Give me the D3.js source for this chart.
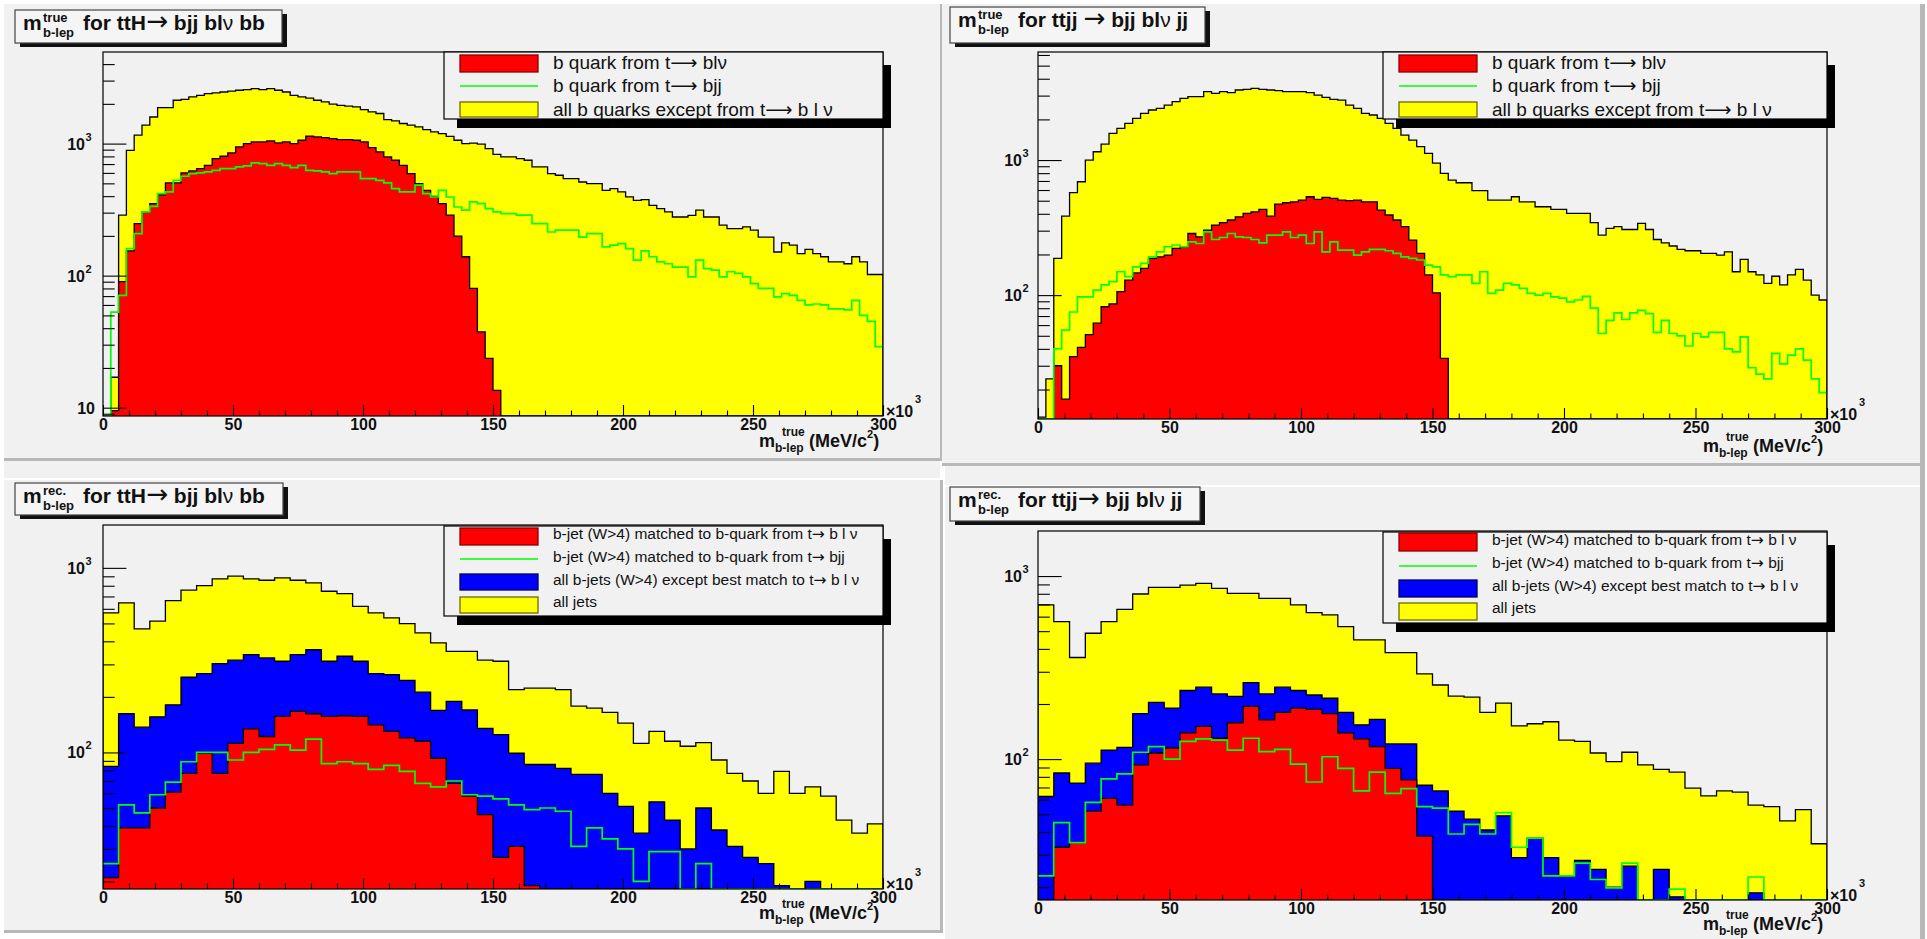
<!DOCTYPE html>
<html><head><meta charset="utf-8">
<script src="https://cdn.jsdelivr.net/npm/d3@7/dist/d3.min.js"></script>
<style>
html,body{margin:0;padding:0;background:#fff;}
svg{display:block;}
text{font-family:"Liberation Sans",Arial,Helvetica,sans-serif;}
</style></head><body>
<svg id="c" width="1927" height="939"></svg>
<script>
// ---------------- DATA ----------------
// x axis: m_b-lep (x10^3 MeV/c^2), 0..300
const xTickValues = [0, 50, 100, 150, 200, 250, 300];

// Panel 1: ttH, true (100 bins)
const tthTrueAll = [0,17,287,890,1160,1380,1590,1875,1875,2130,
 2165,2260,2320,2390,2420,2460,2500,2535,2565,2610,
 2565,2610,2535,2460,2320,2260,2210,2130,2070,1990,
 1950,1920,1900,1810,1740,1690,1520,1485,1420,1380,
 1340,1275,1225,1190,1135,1060,1000,1010,990,917,
 830,792,792,770,748,666,666,593,576,543,
 543,512,498,498,443,456,431,395,372,377,
 341,322,304,278,278,286,313,278,278,241,
 227,227,234,221,196,196,151,177,170,147,
 158,147,139,127,127,123,139,127,102,102];
const tthTrueLep = [0,9.5,90,154,248,304,351,410,504,504,
 600,621,647,685,770,802,850,943,1000,1030,
 1030,1047,1012,1030,1000,1060,1137,1123,1110,1091,
 1072,1072,1060,1030,933,865,792,748,685,593,
 498,443,399,351,287,199,139,80,37.5,23.6,
 13.5,0,0,0,0,0,0,0,0,0,
 0,0,0,0,0,0,0,0,0,0, 0,0,0,0,0,0,0,0,0,0,
 0,0,0,0,0,0,0,0,0,0, 0,0,0,0,0,0,0,0,0,0];
const tthTrueHad = [0,53,71,160,208,304,335,418,431,527,
 566,593,600,610,628,647,647,666,677,714,
 705,685,705,685,658,685,628,621,610,593,
 610,610,610,543,543,527,504,456,431,431,
 484,418,394,443,394,331,313,362,351,322,
 304,295,295,287,287,248,248,214,221,221,
 221,196,208,208,165,170,175,160,131,154,
 139,127,123,116,116,98,131,113,110,98,
 107,104,98,87,80,80,69,73,71,65,
 60,61,60,56,56,55,65,50,45,29];

// Panel 2: ttjj, true (100 bins)
const ttjjTrueAll = [12.5,24,187,385,573,691,1000,1152,1314,1577,
 1718,1871,2037,2219,2347,2414,2555,2704,2862,2946,
 2946,3206,3117,3206,3153,3300,3340,3397,3340,3300,
 3265,3206,3206,3206,3153,3026,2913,2813,2780,2555,
 2414,2219,2155,2037,1871,1718,1531,1406,1256,1120,
 950,797,711,679,679,593,593,505,505,505,
 535,491,491,451,451,431,431,403,403,403,
 344,278,312,321,306,306,340,306,258,244,
 231,218,213,213,204,204,198,209,149,184,
 149,141,122,138,119,141,155,129,100,92];
const ttjjTrueLep = [0,0,30,17,35,41,51,62,82,86,
 106,129,146,158,187,192,198,222,228,286,
 270,303,330,344,360,380,403,414,431,385,
 472,483,491,505,535,511,529,520,505,500,
 505,491,491,426,392,360,321,255,204,141,
 104,34,0,0,0,0,0,0,0,0,
 0,0,0,0,0,0,0,0,0,0, 0,0,0,0,0,0,0,0,0,0,
 0,0,0,0,0,0,0,0,0,0, 0,0,0,0,0,0,0,0,0,0];
const ttjjTrueHad = [0,0,40,55,75,97,97,109,119,126,
 149,137,162,172,192,209,228,235,228,248,
 241,294,258,267,286,270,267,258,244,278,
 278,294,267,278,241,294,209,248,215,215,
 198,209,218,218,213,204,192,187,182,167,
 162,141,137,141,141,122,149,103,109,122,
 119,112,103,100,103,97,95,89,92,98,
 80,52,65,74,66,74,77,73,53,65,
 52,50,42,52,49,53,53,40,38,49,
 29,26,24,37,31,36,40,33,24,19];

// Panel 3: ttH, reconstructed (50 bins)
const tthRecAll = [570,646,467,514,665,757,802,872,901,872,
 857,883,857,829,747,726,619,570,536,499,
 444,392,353,353,316,312,219,223,223,219,
 178,174,165,144,112,130,115,108,113,91,
 77,70,60,79,60,65,58,43,36.5,41];
const tthRecBjets = [84,162,137,156,181,256,267,303,316,339,
 325,312,339,360,312,332,312,267,264,246,
 212,169,189,170,135,125,99,86,86,82,
 76,76,60,51,36.5,54,43,30,50,38,
 31,27,25,19,0,20,0,0,0,0];
const tthRecLep = [21,39,39,50,61,77,99,77,112,134,
 122,157,167,162,157,158,157,141,130,120,
 115,93,68,58,46,27,31,19,0,0,
 0,0,0,0,0,0,0,0,0,0, 0,0,0,0,0,0,0,0,0,0];
const tthRecHad = [25,52,47,59,69,89,100,100,91,100,
 104,110,103,118,87,89,87,81,85,79,
 68,65,70,59,58,56,52,49,50,48,
 31,39,34,30,20,29,29,0,25,0,
 0,0,0,0,0,0,0,0,0,0];

// Panel 4: ttjj, reconstructed (50 bins)
const ttjjRecAll = [695,564,359,487,564,658,798,867,867,893,
 912,857,804,804,755,755,695,631,613,529,
 448,448,382,382,292,254,221,218,180,202,
 152,156,160,127,125,108,97,109,93,88,
 85,69.5,63,67,66,56,55,46,53,34.5];
const ttjjRecBjets = [62.5,84,74,95,112,116,177,204,190,237,
 247,227,220,262,227,247,237,224,215,180,
 154,165,121,121,72,67,52,47,41,49,
 29,37,29,23,28,25,20,26,0,25,
 17.7,0,0,0,0,18.6,0,0,0,0];
const ttjjRecLep = [0,33,35,52,61,56,93,108,115,139,
 151,130,158,194,164,180,190,187,177,139,
 129,117,89,77,38,0,0,0,0,0,
 0,0,0,0,0,0,0,0,0,0, 0,0,0,0,0,0,0,0,0,0];
const ttjjRecHad = [23,45,35,58,78,83,109,117,100,125,
 129,127,112,130,110,113,94,75,103,89,
 67,85,65,69,55,54,39,44,39,51,
 33,37,23,23,27,22,19.8,27,0,0,
 19.5,0,0,0,0,22.7,0,0,0,0];

const legendTrue = ["b quark from t\u2192 bl\u03bd", "b quark from t\u2192 bjj", "all b quarks except from t\u2192 b l \u03bd"];
const legendRec = ["b-jet (W>4) matched to b-quark from t\u2192 b l \u03bd", "b-jet (W>4) matched to b-quark from t\u2192 bjj",
  "all b-jets (W>4) except best match to t\u2192 b l \u03bd", "all jets"];

// ---------------- DRAWING ----------------
const svg = d3.select('#c');
const BG = '#f1f1f1', SH = '#b8b8b8';
const COL = {yellow:'#ffff00', red:'#ff0000', blue:'#0000ff', green:'#00ff00'};

function R(x,y,w,h,fill){ return svg.append('rect').attr('x',x).attr('y',y).attr('width',w).attr('height',h).attr('fill',fill); }
// canvas backgrounds
R(0,0,1927,939,'#fff');
R(4,4,936,454,BG); R(940,4,2,457,SH); R(4,458,938,3,SH);
R(4,461,936,17,BG);
R(942,4,978,459,BG); R(1920,4,5,462,SH); R(942,463,983,3,SH);
R(4,480,936,450,BG); R(940,480,3,453,SH); R(4,930,939,3,SH);
R(945,466,975,473,BG); R(1920,466,5,473,SH); R(945,485,975,2,'#fff');

const panels = [
 {id:1, frame:[103,52,780,364], yDomain:[8.65,4940], labOff:-18,
  hists:[{v:tthTrueAll,c:'yellow'},{v:tthTrueLep,c:'red'},{v:tthTrueHad,c:'green',line:true}],
  title:{box:[15,10,267,33], sup:'true', rest:'for ttH\u2192 bjj bl\u03bd bb'},
  legend:{box:[444,52,439,67], labels:legendTrue, colors:['red','green','yellow'], size:19, longArrow:true,
          rows:[{sw:[3,20],tb:17},{ln:34,tb:40},{sw:[50,65],tb:64}]},
  xt:447},
 {id:2, frame:[1038,52,789,367], yDomain:[12.1,6310], labOff:-16,
  hists:[{v:ttjjTrueAll,c:'yellow'},{v:ttjjTrueLep,c:'red'},{v:ttjjTrueHad,c:'green',line:true}],
  title:{box:[950,7,255,36], sup:'true', rest:'for ttjj \u2192 bjj bl\u03bd jj'},
  legend:{box:[1383,52,444,67], labels:legendTrue, colors:['red','green','yellow'], size:19, longArrow:true,
          rows:[{sw:[3,20],tb:17},{ln:34,tb:40},{sw:[50,65],tb:64}]},
  xt:452},
 {id:3, frame:[103,525,780,364], yDomain:[18.2,1707], labOff:-18,
  hists:[{v:tthRecAll,c:'yellow'},{v:tthRecBjets,c:'blue'},{v:tthRecLep,c:'red'},{v:tthRecHad,c:'green',line:true}],
  title:{box:[15,483,268,32], sup:'rec.', rest:'for ttH\u2192 bjj bl\u03bd bb'},
  legend:{box:[444,526,439,90], labels:legendRec, colors:['red','green','blue','yellow'], size:15.5, longArrow:false,
          rows:[{sw:[2,19],tb:13},{ln:33,tb:36},{sw:[48,64],tb:59},{sw:[71,87],tb:81}]},
  xt:919},
 {id:4, frame:[1038,531,789,369], yDomain:[17.0,1762], labOff:-16,
  hists:[{v:ttjjRecAll,c:'yellow'},{v:ttjjRecBjets,c:'blue'},{v:ttjjRecLep,c:'red'},{v:ttjjRecHad,c:'green',line:true}],
  title:{box:[950,487,250,34], sup:'rec.', rest:'for ttjj\u2192 bjj bl\u03bd jj'},
  legend:{box:[1383,532,444,91], labels:legendRec, colors:['red','green','blue','yellow'], size:15.5, longArrow:false,
          rows:[{sw:[1,19],tb:13},{ln:34,tb:36},{sw:[48,65],tb:59},{sw:[71,88],tb:81}]},
  xt:930}
];

// render a string: arrow in DejaVu (longer glyph), greek nu in normal weight
function richText(t, s, size, arrowScale, longArrow){
  const re = /(\u2192|\u03bd)/;
  s.split(re).forEach(p=>{
    if(p==='') return;
    if(p==='\u2192'){
      t.append('tspan').attr('font-family','"DejaVu Sans", sans-serif').attr('font-weight','normal')
        .attr('font-size', size*arrowScale).text(longArrow ? '\u27f6' : p);
    } else if(p==='\u03bd'){
      t.append('tspan').attr('font-weight','normal').text(p);
    } else {
      t.append('tspan').text(p);
    }
  });
}

panels.forEach(p=>{
  const g = svg.append('g');
  const [fx,fy,fw,fh] = p.frame;
  const fb = fy+fh, fr = fx+fw;
  const x = d3.scaleLinear().domain([0,300]).range([fx,fr]);
  const y = d3.scaleLog().domain(p.yDomain).range([fb,fy]).clamp(true);
  const yv = v => y(Math.max(v, p.yDomain[0]));
  const cid = 'clip'+p.id;
  svg.append('clipPath').attr('id',cid).append('rect').attr('x',fx).attr('y',fy-1).attr('width',fw).attr('height',fh+1);
  const hg = g.append('g').attr('clip-path',`url(#${cid})`);
  p.hists.forEach(h=>{
    const nb = h.v.length, w = 300/nb;
    const pts = h.v.map((v,i)=>[i*w, v]); pts.push([300, h.v[nb-1]]);
    const line = d3.line().curve(d3.curveStepAfter).x(d=>x(d[0])).y(d=>yv(d[1]));
    if(!h.line){
      hg.append('path').attr('d', d3.area().curve(d3.curveStepAfter).x(d=>x(d[0])).y0(fb).y1(d=>yv(d[1]))(pts))
        .attr('fill', COL[h.c]);
      hg.append('path').attr('d', line([[0,0],...pts,[300,0]])).attr('fill','none').attr('stroke','#000').attr('stroke-width',1.3);
    } else {
      hg.append('path').attr('d', line(pts)).attr('fill','none').attr('stroke',COL.green).attr('stroke-width',1.7);
    }
  });
  // frame
  g.append('rect').attr('x',fx).attr('y',fy).attr('width',fw).attr('height',fh).attr('fill','none').attr('stroke','#000').attr('stroke-width',1.2);

  // x axis ticks
  const xMinor = d3.range(0,301,10).filter(v=>v%50!==0);
  const ax1 = g.append('g').attr('transform',`translate(0,${fb})`)
     .call(d3.axisBottom(x).tickValues(xMinor).tickSize(-fh*0.015).tickFormat(''));
  const ax2 = g.append('g').attr('transform',`translate(0,${fb})`)
     .call(d3.axisBottom(x).tickValues(xTickValues).tickSize(-fh*0.03).tickPadding(3).tickFormat(d3.format('d')));
  [ax1,ax2].forEach(a=>{ a.select('.domain').remove(); a.selectAll('line').attr('stroke','#000').attr('stroke-width',1.1); });
  ax2.attr('font-family',null).attr('font-size',16).attr('font-weight','bold');
  ax2.selectAll('text').attr('fill','#111');

  // y axis ticks (log)
  const [d0,d1] = p.yDomain;
  const majors=[], minors=[];
  for(let k=Math.floor(Math.log10(d0)); k<=Math.ceil(Math.log10(d1)); k++){
    for(let m=1;m<10;m++){ const v=m*Math.pow(10,k); if(v>=d0 && v<=d1) (m===1?majors:minors).push(v); }
  }
  const ay1 = g.append('g').attr('transform',`translate(${fx},0)`)
     .call(d3.axisLeft(y).tickValues(minors).tickSize(-fw*0.015).tickFormat(''));
  const ay2 = g.append('g').attr('transform',`translate(${fx},0)`)
     .call(d3.axisLeft(y).tickValues(majors).tickSize(-fw*0.03).tickFormat(''));
  [ay1,ay2].forEach(a=>{ a.select('.domain').remove(); a.selectAll('line').attr('stroke','#000').attr('stroke-width',1.1); });
  majors.forEach(v=>{
    const k = Math.round(Math.log10(v)), ty = y(v);
    if(k===1){
      g.append('text').attr('x',fx-8).attr('y',ty+6).attr('text-anchor','end').attr('font-size',16).attr('font-weight','bold').attr('fill','#111').text('10');
    } else {
      g.append('text').attr('x',fx+p.labOff).attr('y',ty+6).attr('text-anchor','end').attr('font-size',16).attr('font-weight','bold').attr('fill','#111').text('10');
      g.append('text').attr('x',fx+p.labOff+0.5).attr('y',ty-3).attr('font-size',11).attr('font-weight','bold').attr('fill','#111').text(String(k));
    }
  });
  // x10^3
  g.append('text').attr('x',fr+3).attr('y',fb+1).attr('font-size',16).attr('font-weight','bold').attr('fill','#111').text('\u00d710');
  g.append('text').attr('x',fr+32).attr('y',fb-13).attr('font-size',11).attr('font-weight','bold').attr('fill','#111').text('3');
  // x axis title
  const xb = p.xt;
  g.append('text').attr('x',fr-124).attr('y',xb).attr('font-size',18).attr('font-weight','bold').attr('fill','#111').text('m');
  g.append('text').attr('x',fr-101).attr('y',xb-11).attr('font-size',12).attr('font-weight','bold').attr('fill','#111').text('true');
  g.append('text').attr('x',fr-108).attr('y',xb+5).attr('font-size',12).attr('font-weight','bold').attr('fill','#111').text('b-lep');
  const tt = g.append('text').attr('x',fr-74).attr('y',xb).attr('font-size',18).attr('font-weight','bold').attr('fill','#111');
  tt.append('tspan').text('(MeV/c');
  tt.append('tspan').attr('font-size',11).attr('dy',-9).text('2');
  tt.append('tspan').attr('dy',9).text(')');

  // legend
  const L = p.legend; const [lx,ly,lw,lh] = L.box;
  g.append('rect').attr('x',lx+13).attr('y',ly+13).attr('width',lw-5).attr('height',lh-5).attr('fill','#000');
  g.append('rect').attr('x',lx+lw).attr('y',ly+13).attr('width',8).attr('height',lh-4).attr('fill','#000');
  g.append('rect').attr('x',lx+13).attr('y',ly+lh).attr('width',lw-5).attr('height',9).attr('fill','#000');
  g.append('rect').attr('x',lx).attr('y',ly).attr('width',lw).attr('height',lh).attr('fill',BG).attr('stroke','#000').attr('stroke-width',1.2);
  L.rows.forEach((r,i)=>{
    const c = L.colors[i];
    if(r.sw){
      const edge = c==='red'?'#8a0000':(c==='blue'?'#000055':'#6b6b00');
      g.append('rect').attr('x',lx+16).attr('y',ly+r.sw[0]).attr('width',78).attr('height',r.sw[1]-r.sw[0])
        .attr('fill',COL[c]).attr('stroke',edge).attr('stroke-width',1.3);
    } else {
      g.append('line').attr('x1',lx+16).attr('x2',lx+94).attr('y1',ly+r.ln).attr('y2',ly+r.ln).attr('stroke',COL.green).attr('stroke-width',1.6);
    }
    const lt = g.append('text').attr('x',lx+109).attr('y',ly+r.tb).attr('font-size',L.size).attr('fill','#111');
    richText(lt, L.labels[i], L.size, 1.0, L.longArrow);
  });

  // title box
  const T = p.title; const [bx,by,bw,bh] = T.box;
  g.append('rect').attr('x',bx+5).attr('y',by+4).attr('width',bw).attr('height',bh).attr('fill','#111');
  g.append('rect').attr('x',bx).attr('y',by).attr('width',bw).attr('height',bh).attr('fill','#f5f5f5').attr('stroke','#444').attr('stroke-width',1.2);
  g.append('text').attr('x',bx+8).attr('y',by+20).attr('font-size',21).attr('font-weight','bold').attr('fill','#111').text('m');
  g.append('text').attr('x',bx+28).attr('y',by+12).attr('font-size',13).attr('font-weight','bold').attr('fill','#111').text(T.sup);
  g.append('text').attr('x',bx+28).attr('y',by+27).attr('font-size',13).attr('font-weight','bold').attr('fill','#111').text('b-lep');
  const rt = g.append('text').attr('x',bx+68).attr('y',by+20).attr('font-size',21).attr('font-weight','bold').attr('fill','#111');
  richText(rt, T.rest, 21, 1.25, false);
});
</script>
</body></html>
